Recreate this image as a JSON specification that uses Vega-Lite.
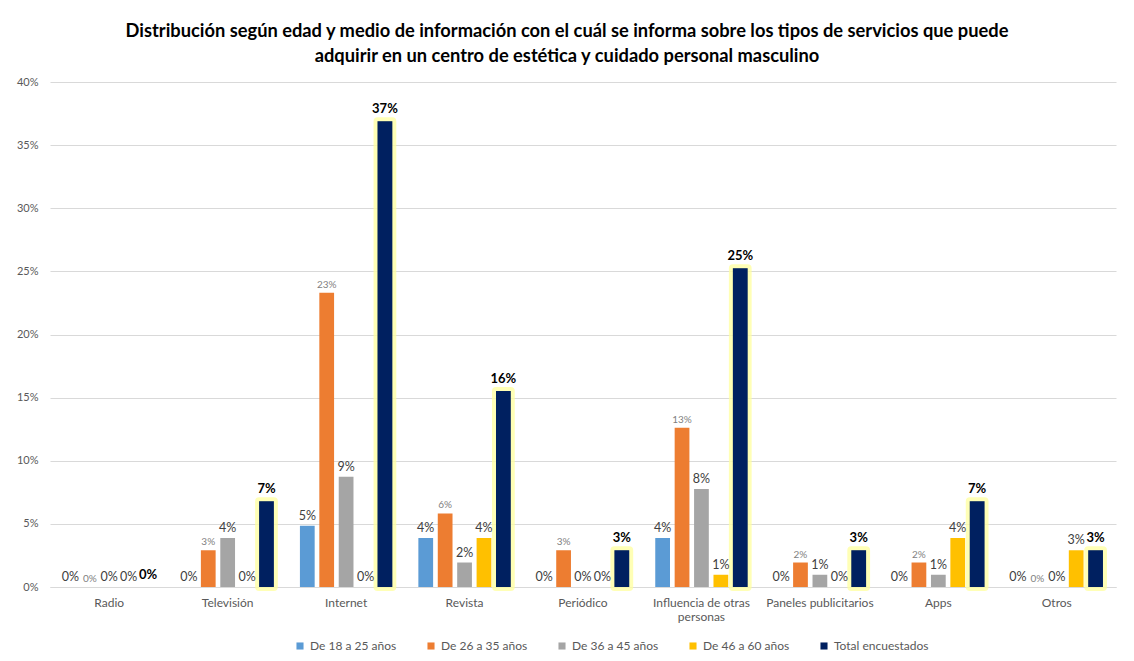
{
  "$schema": "https://vega.github.io/schema/vega-lite/v6.json",
  "width": 1066,
  "height": 505,
  "autosize": "none",
  "padding": {"left": 50, "top": 82, "right": 18, "bottom": 74},
  "background": "white",
  "config": {"font": "Lato", "view": {"stroke": null}},
  "title": {
    "text": ["Distribución según edad y medio de información con el cuál se informa sobre los tipos de servicios que puede", "adquirir en  un centro de estética y cuidado personal masculino"],
    "font": "Lato", "fontSize": 18.3, "fontWeight": "bold", "color": "#000000",
    "lineHeight": 25, "offset": 10, "dx": -16, "anchor": "middle"
  },
  "data": {"values": [
    {"medio": "Radio", "serie": "De 18 a 25 años", "valor": 0},
    {"medio": "Radio", "serie": "De 26 a 35 años", "valor": 0},
    {"medio": "Radio", "serie": "De 36 a 45 años", "valor": 0},
    {"medio": "Radio", "serie": "De 46 a 60 años", "valor": 0},
    {"medio": "Radio", "serie": "Total encuestados", "valor": 0},
    {"medio": "Televisión", "serie": "De 18 a 25 años", "valor": 0},
    {"medio": "Televisión", "serie": "De 26 a 35 años", "valor": 0.0291},
    {"medio": "Televisión", "serie": "De 36 a 45 años", "valor": 0.0388},
    {"medio": "Televisión", "serie": "De 46 a 60 años", "valor": 0},
    {"medio": "Televisión", "serie": "Total encuestados", "valor": 0.0680},
    {"medio": "Internet", "serie": "De 18 a 25 años", "valor": 0.0485},
    {"medio": "Internet", "serie": "De 26 a 35 años", "valor": 0.2330},
    {"medio": "Internet", "serie": "De 36 a 45 años", "valor": 0.0874},
    {"medio": "Internet", "serie": "De 46 a 60 años", "valor": 0},
    {"medio": "Internet", "serie": "Total encuestados", "valor": 0.3689},
    {"medio": "Revista", "serie": "De 18 a 25 años", "valor": 0.0388},
    {"medio": "Revista", "serie": "De 26 a 35 años", "valor": 0.0583},
    {"medio": "Revista", "serie": "De 36 a 45 años", "valor": 0.0194},
    {"medio": "Revista", "serie": "De 46 a 60 años", "valor": 0.0388},
    {"medio": "Revista", "serie": "Total encuestados", "valor": 0.1553},
    {"medio": "Periódico", "serie": "De 18 a 25 años", "valor": 0},
    {"medio": "Periódico", "serie": "De 26 a 35 años", "valor": 0.0291},
    {"medio": "Periódico", "serie": "De 36 a 45 años", "valor": 0},
    {"medio": "Periódico", "serie": "De 46 a 60 años", "valor": 0},
    {"medio": "Periódico", "serie": "Total encuestados", "valor": 0.0291},
    {"medio": "Influencia de otras personas", "serie": "De 18 a 25 años", "valor": 0.0388},
    {"medio": "Influencia de otras personas", "serie": "De 26 a 35 años", "valor": 0.1262},
    {"medio": "Influencia de otras personas", "serie": "De 36 a 45 años", "valor": 0.0777},
    {"medio": "Influencia de otras personas", "serie": "De 46 a 60 años", "valor": 0.0097},
    {"medio": "Influencia de otras personas", "serie": "Total encuestados", "valor": 0.2524},
    {"medio": "Paneles publicitarios", "serie": "De 18 a 25 años", "valor": 0},
    {"medio": "Paneles publicitarios", "serie": "De 26 a 35 años", "valor": 0.0194},
    {"medio": "Paneles publicitarios", "serie": "De 36 a 45 años", "valor": 0.0097},
    {"medio": "Paneles publicitarios", "serie": "De 46 a 60 años", "valor": 0},
    {"medio": "Paneles publicitarios", "serie": "Total encuestados", "valor": 0.0291},
    {"medio": "Apps", "serie": "De 18 a 25 años", "valor": 0},
    {"medio": "Apps", "serie": "De 26 a 35 años", "valor": 0.0194},
    {"medio": "Apps", "serie": "De 36 a 45 años", "valor": 0.0097},
    {"medio": "Apps", "serie": "De 46 a 60 años", "valor": 0.0388},
    {"medio": "Apps", "serie": "Total encuestados", "valor": 0.0680},
    {"medio": "Otros", "serie": "De 18 a 25 años", "valor": 0},
    {"medio": "Otros", "serie": "De 26 a 35 años", "valor": 0},
    {"medio": "Otros", "serie": "De 36 a 45 años", "valor": 0},
    {"medio": "Otros", "serie": "De 46 a 60 años", "valor": 0.0291},
    {"medio": "Otros", "serie": "Total encuestados", "valor": 0.0291}
  ]},
  "encoding": {
    "x": {
      "field": "medio", "type": "nominal",
      "scale": {"domain": ["Radio", "Televisión", "Internet", "Revista", "Periódico", "Influencia de otras personas", "Paneles publicitarios", "Apps", "Otros"], "paddingInner": 0.22, "paddingOuter": 0.11},
      "axis": {
        "title": null, "labelAngle": 0, "ticks": false, "domainColor": "#D9D9D9",
        "labelColor": "#595959", "labelFontSize": 12, "labelPadding": 10, "labelFont": "Lato",
        "labelExpr": "datum.label == 'Influencia de otras personas' ? ['Influencia de otras', 'personas'] : datum.label"
      }
    },
    "xOffset": {
      "field": "serie", "type": "nominal",
      "scale": {"domain": ["De 18 a 25 años", "De 26 a 35 años", "De 36 a 45 años", "De 46 a 60 años", "Total encuestados"], "paddingInner": 0.24}
    },
    "y": {
      "field": "valor", "type": "quantitative",
      "scale": {"domain": [0, 0.4]},
      "axis": {
        "title": null, "format": ".0%", "values": [0, 0.05, 0.1, 0.15, 0.2, 0.25, 0.3, 0.35, 0.4],
        "domain": false, "ticks": false, "gridColor": "#D9D9D9", "labelColor": "#595959",
        "labelFontSize": 11, "labelPadding": 12
      }
    }
  },
  "layer": [
    {
      "transform": [{"filter": "datum.serie == 'Total encuestados' && datum.valor > 0"}],
      "mark": {"type": "bar", "color": "#002060", "stroke": "#FFFF9E", "strokeWidth": 8, "strokeOpacity": 0.75, "strokeJoin": "round"},
      "encoding": {}
    },
    {
      "mark": {"type": "bar"},
      "encoding": {
        "color": {
          "field": "serie", "type": "nominal",
          "scale": {"domain": ["De 18 a 25 años", "De 26 a 35 años", "De 36 a 45 años", "De 46 a 60 años", "Total encuestados"], "range": ["#5B9BD5", "#ED7D31", "#A5A5A5", "#FFC000", "#002060"]},
          "legend": {
            "title": null, "orient": "none", "legendX": 244, "legendY": 558, "direction": "horizontal", "symbolType": "square",
            "symbolSize": 50, "labelFontSize": 12, "labelColor": "#595959", "columnPadding": 28, "labelOffset": 4
          }
        }
      }
    },
    {
      "transform": [{"filter": "datum.serie != 'Total encuestados'"}],
      "mark": {"type": "text", "baseline": "bottom", "dy": -3, "font": "Lato"},
      "encoding": {
        "text": {"field": "valor", "type": "quantitative", "format": ".0%"},
        "size": {"condition": {"test": "datum.serie == 'De 26 a 35 años'", "value": 10}, "value": 12.5},
        "color": {"condition": {"test": "datum.serie == 'De 26 a 35 años'", "value": "#7F7F7F"}, "value": "#404040"}
      }
    },
    {
      "transform": [{"filter": "datum.serie == 'Total encuestados'"}],
      "mark": {"type": "text", "baseline": "bottom", "dy": -5, "font": "Lato", "fontWeight": "bold", "fontSize": 13, "color": "#000000"},
      "encoding": {
        "text": {"field": "valor", "type": "quantitative", "format": ".0%"}
      }
    }
  ]
}
